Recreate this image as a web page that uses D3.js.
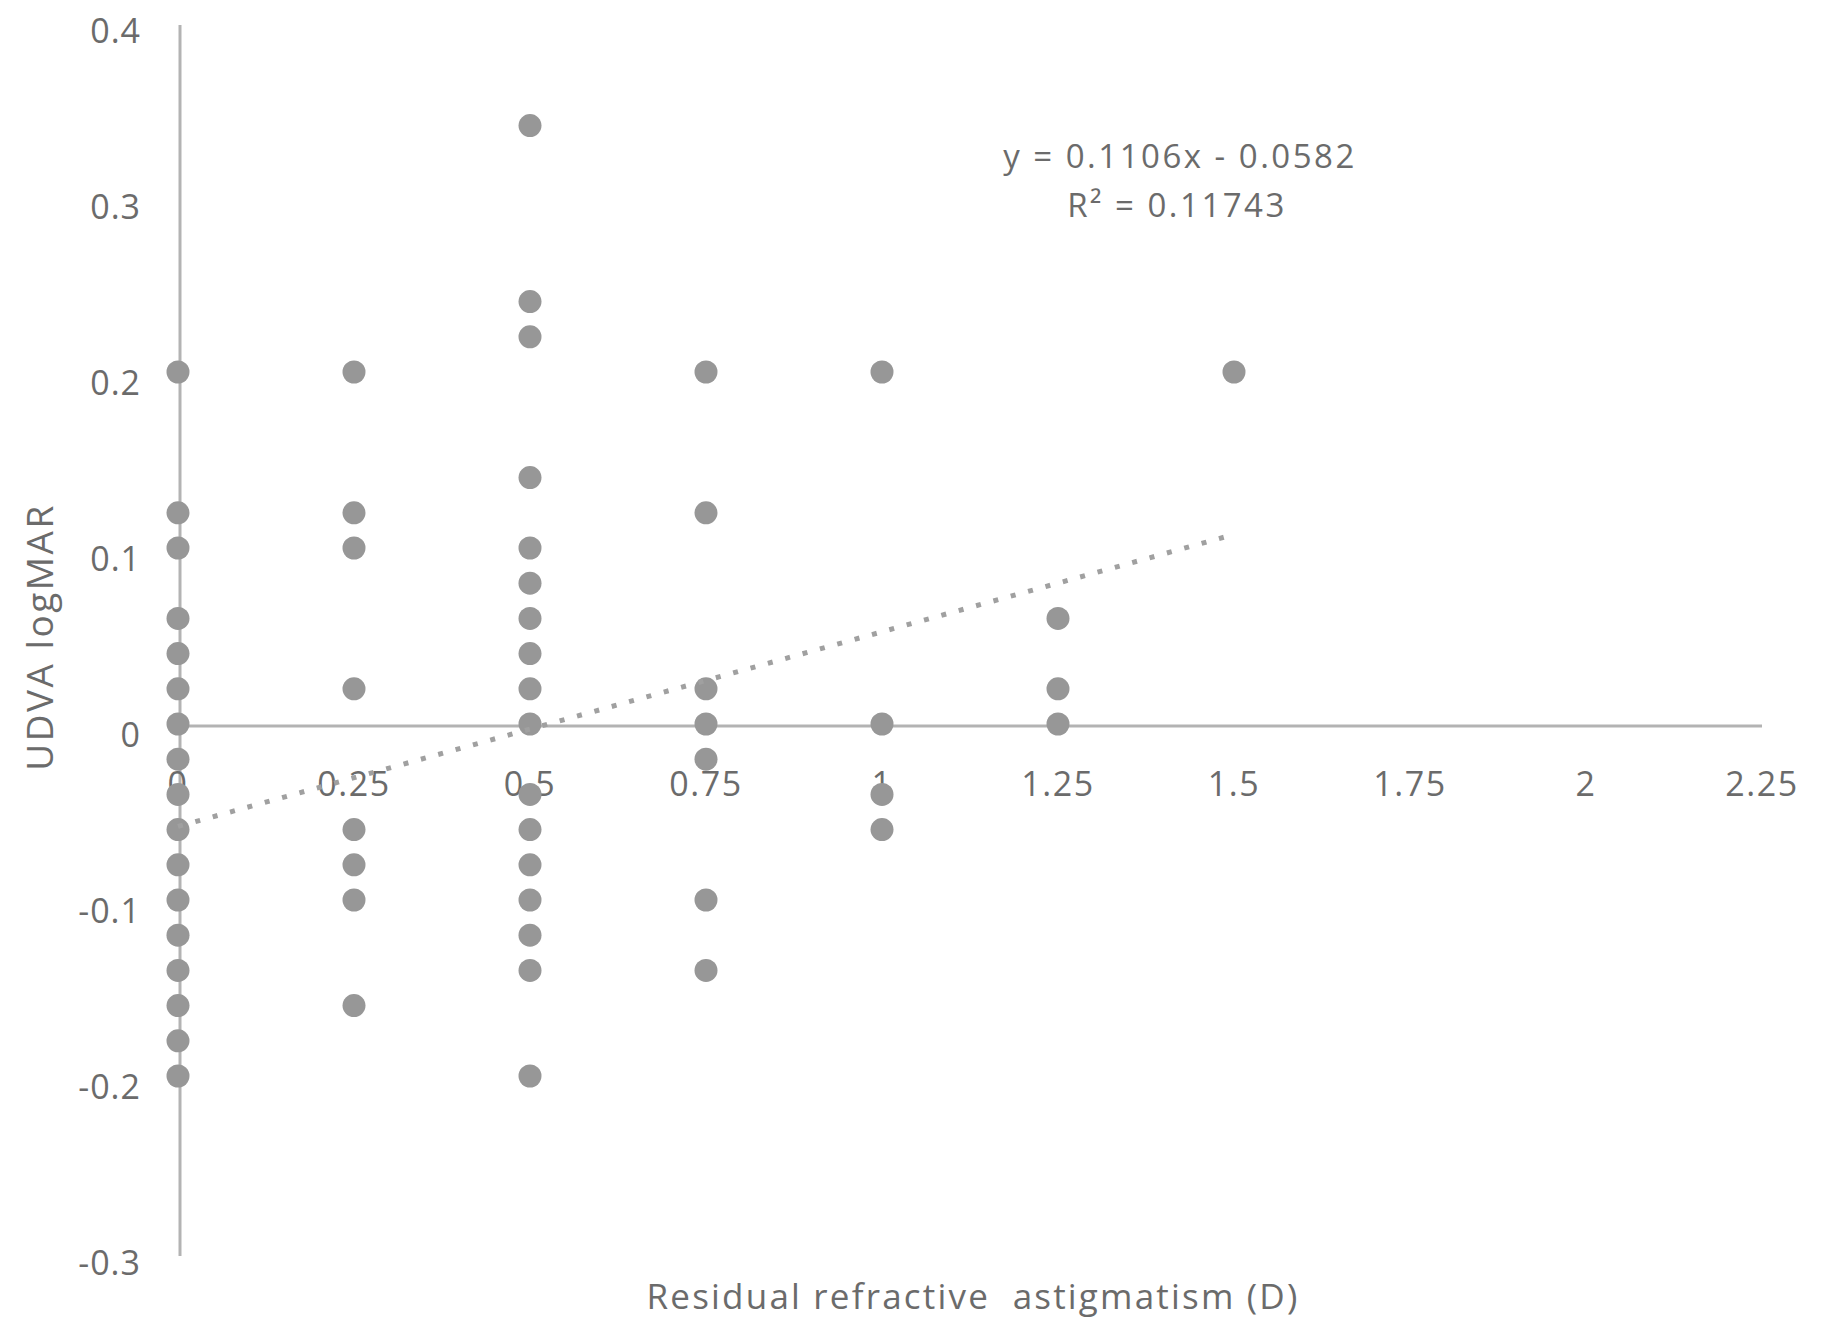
<!DOCTYPE html>
<html>
<head>
<meta charset="utf-8">
<script src="https://cdn.jsdelivr.net/npm/d3@7"></script>
<style>
    body { margin: 0; background: #fff; }
    text { font-family: "Open Sans", sans-serif; fill: #6b6b6b; }
</style>
</head>
<body>
<div id="chart"></div>
<script>
// residual astigmatism groups (D) and the UDVA values
var astigGroups = [0, 0.25, 0.5, 0.75, 1, 1.25, 1.5];
var udva0 = [0.2, 0.12, 0.1, 0.06, 0.04, 0.02, 0, -0.02, -0.04, -0.06, -0.08, -0.1, -0.12, -0.14, -0.16, -0.18, -0.2];
var udva025 = [0.2, 0.12, 0.1, 0.02, -0.06, -0.08, -0.1, -0.16];
var udva05 = [0.34, 0.24, 0.22, 0.14, 0.1, 0.08, 0.06, 0.04, 0.02, 0, -0.04, -0.06, -0.08, -0.1, -0.12, -0.14, -0.2];
var udva075 = [0.2, 0.12, 0.02, 0, -0.02, -0.1, -0.14];
var udva1 = [0.2, 0, -0.04, -0.06];
var udva125 = [0.06, 0.02, 0];
var udva15 = [0.2];
var udvaByGroup = [udva0, udva025, udva05, udva075, udva1, udva125, udva15];

var xTicks = [0, 0.25, 0.5, 0.75, 1, 1.25, 1.5, 1.75, 2, 2.25];
var yTicks = [0.4, 0.3, 0.2, 0.1, 0, -0.1, -0.2, -0.3];

// linear trendline shown on the chart
var slope = 0.1106, intercept = -0.0582;
var eqLabel = "y = 0.1106x - 0.0582";
var r2Label = "R² = 0.11743";

var width = 1824, height = 1325;

var svg = d3.select("#chart")
    .append("svg")
    .attr("width", width)
    .attr("height", height);

var x = d3.scaleLinear().domain([0, 2.25]).range([178, 1762]);
var y = d3.scaleLinear().domain([-0.3, 0.4]).range([1252, 20]);

// flatten the columns into points
var points = [];
astigGroups.forEach(function (g, i) {
    udvaByGroup[i].forEach(function (v) { points.push({ x: g, y: v }); });
});

// axis lines (no ticks, like the excel chart)
svg.append("line")
    .attr("x1", x(0) + 2).attr("x2", x(0) + 2)
    .attr("y1", y(0.4) + 5).attr("y2", y(-0.3) + 4)
    .attr("stroke", "#b3b3b3").attr("stroke-width", 3);
svg.append("line")
    .attr("x1", x(0)).attr("x2", x(2.25))
    .attr("y1", y(0) + 2).attr("y2", y(0) + 2)
    .attr("stroke", "#b3b3b3").attr("stroke-width", 3);

// tick labels
svg.append("g")
    .selectAll("text")
    .data(yTicks)
    .enter()
    .append("text")
    .attr("x", 141)
    .attr("y", function (d) { return y(d) + 11; })
    .attr("dy", "0.35em")
    .attr("text-anchor", "end")
    .style("font-size", "34px")
    .style("letter-spacing", "1px")
    .text(function (d) { return d; });

svg.append("g")
    .selectAll("text")
    .data(xTicks)
    .enter()
    .append("text")
    .attr("x", function (d) { return x(d); })
    .attr("y", 784)
    .attr("dy", "0.35em")
    .attr("text-anchor", "middle")
    .style("font-size", "34px")
    .style("letter-spacing", "1.5px")
    .text(function (d) { return d; });

// scatter points
svg.append("g")
    .selectAll("circle")
    .data(points)
    .enter()
    .append("circle")
    .attr("cx", function (d) { return x(d.x); })
    .attr("cy", function (d) { return y(d.y); })
    .attr("r", 11.5)
    .attr("fill", "#979797");

// dotted trendline over the data range
var trendLine = d3.line()
    .x(function (d) { return x(d); })
    .y(function (d) { return y(slope * d + intercept); });

svg.append("path")
    .datum([0, 1.5])
    .attr("d", trendLine)
    .attr("fill", "none")
    .attr("stroke", "#a0a0a0")
    .attr("stroke-width", 5)
    .attr("stroke-dasharray", "5,13");

// equation label
svg.append("text")
    .attr("x", 1180).attr("y", 168)
    .attr("text-anchor", "middle")
    .style("font-size", "33px")
    .style("letter-spacing", "2.5px")
    .text(eqLabel);
svg.append("text")
    .attr("x", 1177).attr("y", 217)
    .attr("text-anchor", "middle")
    .style("font-size", "33px")
    .style("letter-spacing", "2.5px")
    .text(r2Label);

// axis titles
svg.append("text")
    .attr("x", 973).attr("y", 1309)
    .attr("text-anchor", "middle")
    .style("font-size", "35px")
    .style("letter-spacing", "2.2px")
    .style("white-space", "pre")
    .text("Residual refractive  astigmatism (D)");

svg.append("text")
    .attr("transform", "translate(53,637) rotate(-90)")
    .attr("text-anchor", "middle")
    .style("font-size", "37px")
    .style("letter-spacing", "2.5px")
    .text("UDVA logMAR");
</script>
</body>
</html>
